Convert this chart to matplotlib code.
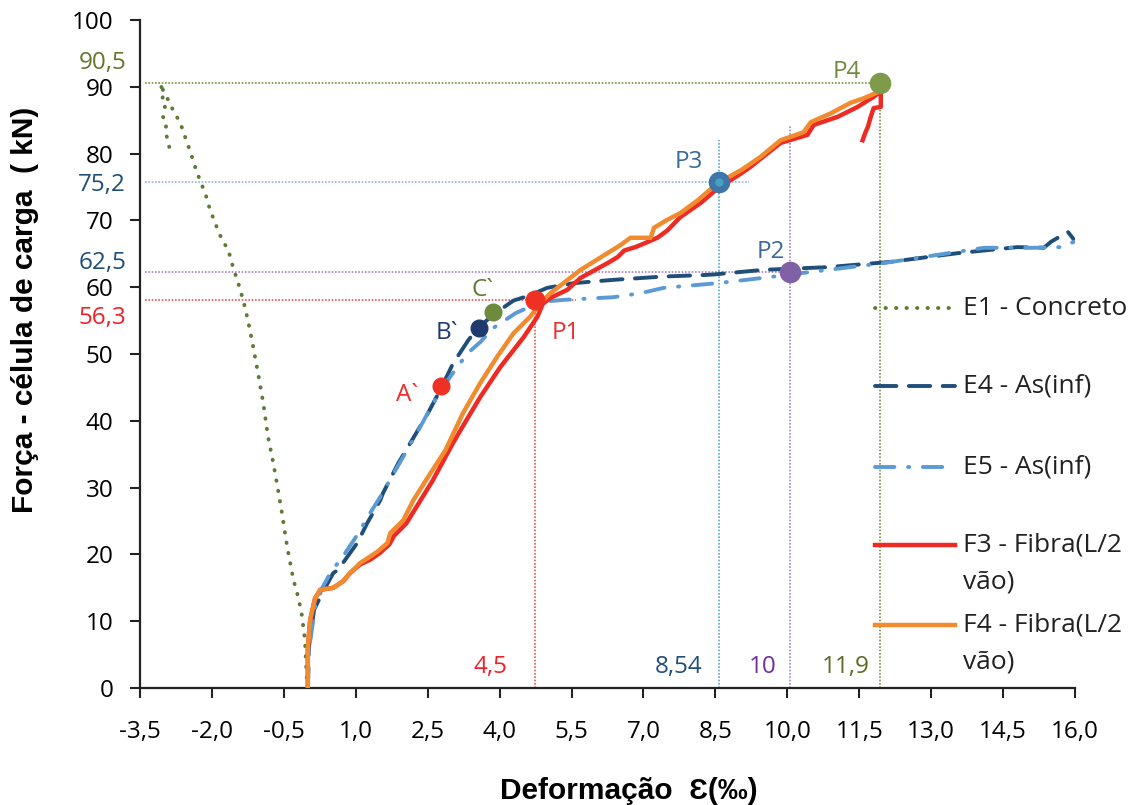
import matplotlib
matplotlib.use('Agg')
import matplotlib.pyplot as plt
from matplotlib.lines import Line2D

plt.rcParams['font.family'] = ['Open Sans', 'DejaVu Sans']

# ---- data ----
e1_x = [0.0, -0.02, -0.06, -0.13, -0.2, -0.3, -0.43, -0.54, -0.62, -0.72, -0.83, -0.93,
        -1.04, -1.14, -1.25, -1.35, -1.45, -1.56, -1.66, -1.79, -1.9, -2.04, -2.14, -2.25,
        -2.35, -2.46, -2.56, -2.66, -2.81, -2.91, -3.02, -3.07,
        -3.02, -3.04, -2.98, -3.02, -2.94, -2.98, -2.94, -2.89]
e1_y = [0, 1.2, 7.2, 11.2, 13.6, 16.2, 21.1, 26.2, 29.6, 33.7, 37.6, 42.7,
        47.2, 51.1, 55.1, 58.1, 60.6, 63.0, 65.6, 67.1, 69.0, 71.6, 74.1, 76.0,
        78.0, 80.5, 82.5, 84.6, 86.5, 88.0, 89.5, 90.5,
        89.0, 87.5, 87.0, 85.5, 84.5, 83.5, 82.5, 81.0]

e4_x = [0, 0.02, 0.13, 0.3, 0.53, 0.63, 1.03, 1.24, 1.51, 1.57, 1.89, 2.14, 2.51, 2.76,
        3.03, 3.35, 3.56, 3.91, 4.29, 4.64, 4.99, 5.54, 6.37, 7.42, 8.19, 8.46, 9.5,
        10.84, 12.16, 13.56, 14.8, 15.35, 15.5, 15.85, 15.98]
e4_y = [0, 6, 11.7, 14.2, 17.2, 17.7, 21.7, 24.7, 28.1, 29.2, 33.7, 36.7, 41.2, 44.6,
        48.6, 52.1, 54.0, 56.1, 58.0, 58.8, 59.9, 60.6, 61.1, 61.6, 61.8, 61.9, 62.6,
        63.0, 63.8, 65.1, 66.0, 65.9, 66.8, 68.3, 67.1]

e5_x = [0, 0.03, 0.15, 0.3, 0.47, 0.78, 1.03, 1.3, 1.51, 1.9, 2.3, 2.62, 2.97, 3.33,
        3.6, 3.87, 4.33, 4.85, 5.33, 6.37, 6.94, 7.42, 8.54, 9.5, 10.28, 12.0, 14.1,
        15.14, 15.7, 15.98]
e5_y = [0, 6, 12, 15, 17.2, 20.2, 22.9, 26.2, 28.6, 33.5, 38.5, 42.7, 46.6, 50.1,
        51.8, 53.9, 56.1, 57.8, 58.1, 58.5, 59.1, 59.9, 60.6, 61.4, 62.1, 63.6, 65.9,
        65.9, 66.0, 66.8]

f3_x = [0, 0.0, 0.05, 0.15, 0.26, 0.53, 0.74, 0.88, 1.09, 1.3, 1.5, 1.7, 1.8, 2.05,
        2.3, 2.6, 3.03, 3.3, 3.6, 4.02, 4.5, 4.79, 4.9, 5.06, 5.41, 5.69, 6.25, 6.46,
        6.6, 6.83, 7.0, 7.29, 7.5, 7.77, 8.19, 8.55, 9.03, 9.23, 9.86, 10.42, 10.55,
        11.05, 11.47, 11.8, 11.95, 11.95, 11.8, 11.74, 11.68, 11.62, 11.57]
f3_y = [0, 6, 10.2, 13.4, 14.7, 15.0, 16.0, 17.2, 18.5, 19.2, 20.2, 21.5, 22.8, 24.6,
        27.5, 31.0, 36.7, 40.0, 43.6, 48.1, 52.5, 55.6, 57.5, 58.4, 59.6, 61.4, 63.6,
        64.5, 65.5, 66.0, 66.5, 67.4, 68.5, 70.5, 72.6, 74.8, 77.0, 78.0, 81.6, 82.8,
        84.3, 85.5, 87.0, 88.5, 89.3, 87.0, 86.8, 85.5, 84.0, 83.0, 82.0]

f4_x = [0, 0.0, 0.05, 0.15, 0.26, 0.53, 0.74, 0.88, 1.09, 1.24, 1.45, 1.66, 1.72, 1.99,
        2.2, 2.5, 2.87, 3.24, 3.6, 3.95, 4.29, 4.64, 4.85, 5.06, 5.69, 6.25, 6.52, 6.73,
        7.15, 7.22, 7.5, 7.77, 8.13, 8.55, 9.03, 9.44, 9.86, 10.34, 10.49, 10.9, 11.32,
        11.6, 11.89, 11.93]
f4_y = [0, 6, 10.2, 13.4, 14.7, 15.0, 16.0, 17.2, 18.7, 19.4, 20.4, 21.7, 23.2, 25.1,
        28.1, 31.5, 35.6, 41.2, 45.7, 49.6, 53.1, 55.6, 57.6, 59.1, 62.6, 65.1, 66.3,
        67.4, 67.4, 68.9, 70.1, 71.1, 73.0, 75.6, 77.5, 79.5, 82.0, 83.2, 84.7, 86.0,
        87.6, 88.3, 89.2, 90.5]

# marked points
pt_names = ['A`', 'B`', 'C`', 'P1', 'P2', 'P3', 'P4']
pt_x = [2.78, 3.56, 3.87, 4.73, 10.05, 8.57, 11.93]
pt_y = [45.2, 53.9, 56.3, 58.1, 62.3, 75.8, 90.5]
pt_colors = ['#EE3124', '#1F3A6E', '#6E8B3D', '#EE3124', '#8061A5', '#3F76A8', '#7F9B4A']
pt_sizes = [12, 12, 12, 13.5, 14.5, 14.5, 14.5]
pt_label_x = [2.07, 2.91, 3.64, 5.39, 9.65, 7.94, 11.24]
pt_label_y = [43.9, 53.1, 59.6, 53.1, 65.3, 78.7, 92.2]
pt_label_colors = ['#EE2A2A', '#1F3A6E', '#5F7A30', '#EE2A2A', '#3A6A9A', '#3A6A9A', '#6E8B3D']

# guide lines for P1..P4: (point index, horizontal end x, vertical top y, colours)
guides = [(3, 5.6, 58.1, '#F25050', '#F25050'),
          (4, 10.2, 84.3, '#A57FCB', '#A57FCB'),
          (5, 9.2, 82.0, '#8DB3E2', '#4BACC6'),
          (6, 11.93, 90.5, '#77933C', '#77933C')]

# value labels next to the axes
ylab_text = ['90,5', '75,2', '62,5', '56,3']
ylab_pos = [93.6, 75.3, 63.6, 55.4]
ylab_colors = ['#66752E', '#1F4E79', '#1F4E79', '#F0202A']
xlab_text = ['4,5', '8,54', '10', '11,9']
xlab_pos = [3.81, 7.73, 9.49, 11.22]
xlab_colors = ['#F0202A', '#1F4E79', '#7030A0', '#5C6B25']

x_ticks = [-3.5, -2.0, -0.5, 1.0, 2.5, 4.0, 5.5, 7.0, 8.5, 10.0, 11.5, 13.0, 14.5, 16.0]
y_ticks = [0, 10, 20, 30, 40, 50, 60, 70, 80, 90, 100]

W, H = 1137, 805
fig = plt.figure(figsize=(W / 100, H / 100), dpi=100)
ax = fig.add_axes([140 / W, 1 - 688 / H, 935 / W, 668 / H])

# guide lines
for i, hx, vtop, hcol, vcol in guides:
    ax.plot([-3.4, hx], [pt_y[i], pt_y[i]], color=hcol, lw=1.2, ls=(0, (1, 1)), zorder=1)
    ax.plot([pt_x[i], pt_x[i]], [0, vtop], color=vcol, lw=1.2, ls=(0, (1, 1)), zorder=1)

# series
styles = {
    'E1 - Concreto': dict(color='#5E7B34', lw=2.8, ls=(0, (0.1, 2.6)), dash_capstyle='round'),
    'E4 - As(inf)': dict(color='#1F4E79', lw=2.8, ls=(0, (5.5, 3.2)), dash_capstyle='round'),
    'E5 - As(inf)': dict(color='#5B9BD5', lw=2.8, ls=(0, (5.0, 3.5, 0.3, 3.5)), dash_capstyle='round'),
    'F3 - Fibra(L/2\nvão)': dict(color='#EE2A24', lw=3.2, ls='-'),
    'F4 - Fibra(L/2\nvão)': dict(color='#F28A2E', lw=3.2, ls='-'),
}
series = [(e1_x, e1_y), (e4_x, e4_y), (e5_x, e5_y), (f3_x, f3_y), (f4_x, f4_y)]
for (xs, ys), (name, st) in zip(series, styles.items()):
    ax.plot(xs, ys, solid_joinstyle='round', zorder=3, **st)

# points
for x, y, c, s in zip(pt_x, pt_y, pt_colors, pt_sizes):
    ax.plot(x, y, 'o', color=c, ms=s, mec=c, zorder=5)
ax.plot(pt_x[5], pt_y[5], 'o', color='#45A2C2', ms=6, mec='none', zorder=6)

for name, x, y, c in zip(pt_names, pt_label_x, pt_label_y, pt_label_colors):
    ax.text(x, y, name, color=c, fontsize=17.5, ha='center', va='center', zorder=6)

for t, y, c in zip(ylab_text, ylab_pos, ylab_colors):
    ax.text(-3.79, y, t, color=c, fontsize=17.5, ha='right', va='center', clip_on=False)
for t, x, c in zip(xlab_text, xlab_pos, xlab_colors):
    ax.text(x, 3.1, t, color=c, fontsize=17.5, ha='center', va='center')

# axes
ax.set_xlim(-3.5, 16.0)
ax.set_ylim(0, 100)
ax.set_xticks(x_ticks)
ax.set_xticklabels([f'{v:.1f}'.replace('.', ',') for v in x_ticks])
ax.set_yticks(y_ticks)
ax.set_yticklabels([str(v) for v in y_ticks])
ax.tick_params(axis='both', labelsize=17.5, length=7, width=1.5, color='#222222')
ax.tick_params(axis='x', pad=16)
ax.tick_params(axis='y', pad=12)
for sp in ['top', 'right']:
    ax.spines[sp].set_visible(False)
for sp in ['left', 'bottom']:
    ax.spines[sp].set_linewidth(1.6)
    ax.spines[sp].set_color('#222222')

fig.text(629 / W, 1 - 791 / H, 'Deformação  Ɛ(‰)', ha='center', va='center',
         fontsize=21.5, fontweight='bold', family=['Liberation Sans', 'DejaVu Sans'])
fig.text(25 / W, 1 - 310 / H, 'Força - célula de carga  ( kN)', ha='center', va='center',
         rotation=90, fontsize=21.5, fontweight='bold', family=['Liberation Sans', 'DejaVu Sans'])

# legend drawn by hand so the handle sits on the first text line
rows = [308, 386, 467, 545, 625]
for r, (name, st) in zip(rows, styles.items()):
    fy = 1 - r / H
    fig.add_artist(Line2D([875 / W, 955 / W], [fy, fy], transform=fig.transFigure, **st))
    lines = name.split('\n')
    for k, line in enumerate(lines):
        fig.text(963 / W, 1 - (r + 37 * k) / H, line, fontsize=19, ha='left', va='center',
                 color='#222222')

fig.savefig('out.png', dpi=100)
